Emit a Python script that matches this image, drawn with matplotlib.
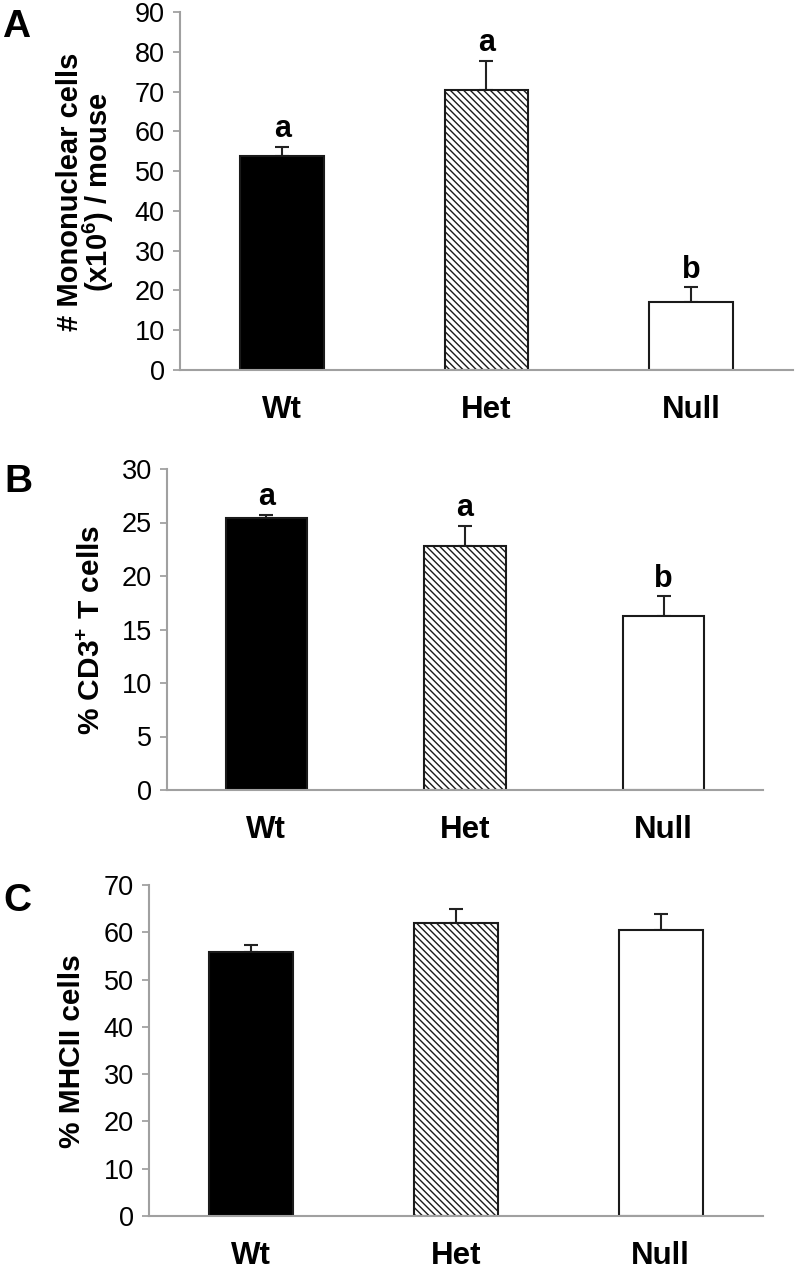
import numpy as np
import matplotlib
matplotlib.use('Agg')
import matplotlib.pyplot as plt

plt.rcParams['font.family'] = ['Liberation Sans', 'DejaVu Sans']
plt.rcParams['mathtext.fontset'] = 'custom'
plt.rcParams['mathtext.bf'] = 'Liberation Sans:bold'
plt.rcParams['mathtext.rm'] = 'Liberation Sans:bold'
plt.rcParams['mathtext.default'] = 'bf'
plt.rcParams['hatch.linewidth'] = 1.0

# data
groups = ['Wt', 'Het', 'Null']

mono = [53.9, 70.3, 17.0]
mono_err = [2.2, 7.5, 3.8]
mono_sig = ['a', 'a', 'b']

cd3 = [25.4, 22.8, 16.3]
cd3_err = [0.3, 1.9, 1.8]
cd3_sig = ['a', 'a', 'b']

mhc = [55.9, 61.9, 60.5]
mhc_err = [1.4, 3.0, 3.3]

fills = ['black', 'white', 'white']
hatches = [None, '\\\\\\\\\\', None]

W, H = 797, 1271
fig = plt.figure(figsize=(W / 100, H / 100), dpi=100)


def rect(left, right, top, bottom):
    # pixel box -> figure fraction
    return [left / W, 1 - bottom / H, (right - left) / W, (bottom - top) / H]


def panel(box, vals, errs, ymax, step, sig=None):
    ax = fig.add_axes(box)
    x = np.arange(len(groups))
    bars = ax.bar(x, vals, width=0.41, color=fills, edgecolor='#1a1a1a',
                  linewidth=1.5, zorder=2,
                  yerr=[np.zeros(len(vals)), errs],
                  error_kw=dict(ecolor='#222222', elinewidth=1.5,
                                capsize=5, capthick=1.5, zorder=1))
    for b, h in zip(bars, hatches):
        if h:
            b.set_hatch(h)
    ax.set_xlim(-0.5, 2.5)
    ax.set_ylim(0, ymax)
    ax.set_yticks(np.arange(0, ymax + 1, step))
    ax.set_xticks(x)
    ax.set_xticklabels(groups, fontsize=22.5, fontweight='bold')
    ax.tick_params(axis='x', length=0, pad=18)
    ax.tick_params(axis='y', length=5, width=1.2, color='#9a9a9a',
                   labelsize=19.5, pad=6)
    for s in ['top', 'right']:
        ax.spines[s].set_visible(False)
    for s in ['left', 'bottom']:
        ax.spines[s].set_color('#a0a0a0')
        ax.spines[s].set_linewidth(1.5)
    if sig:
        for i in range(len(vals)):
            ax.annotate(sig[i], (x[i], vals[i] + errs[i]), xytext=(0, 7),
                        textcoords='offset points', ha='center',
                        va='baseline', fontsize=22, fontweight='bold')
    return ax


panel(rect(180, 793, 12, 370), mono, mono_err, 90, 10, mono_sig)
panel(rect(167, 763, 469, 790), cd3, cd3_err, 30, 5, cd3_sig)
panel(rect(149, 763, 885, 1216), mhc, mhc_err, 70, 10)

# y labels
fig.text(86 / W, 1 - 192 / H, '# Mononuclear cells\n(x10$^{6}$) / mouse',
         rotation=90, ha='center', va='center', multialignment='center',
         linespacing=0.85, fontsize=21, fontweight='bold')
lab = dict(rotation=90, rotation_mode='anchor', ha='center', va='baseline',
           fontsize=21.5, fontweight='bold')
fig.text(100 / W, 1 - 630 / H, '% CD3$^{+}$ T cells', **lab)
fig.text(80 / W, 1 - 1051 / H, '% MHCII cells', **lab)

# panel letters
fig.text(2 / W, 1 - 37 / H, 'A', fontsize=28, fontweight='bold', va='baseline')
fig.text(4 / W, 1 - 492 / H, 'B', fontsize=28, fontweight='bold', va='baseline')
fig.text(3 / W, 1 - 911 / H, 'C', fontsize=28, fontweight='bold', va='baseline')

fig.savefig('out.png', dpi=100)
